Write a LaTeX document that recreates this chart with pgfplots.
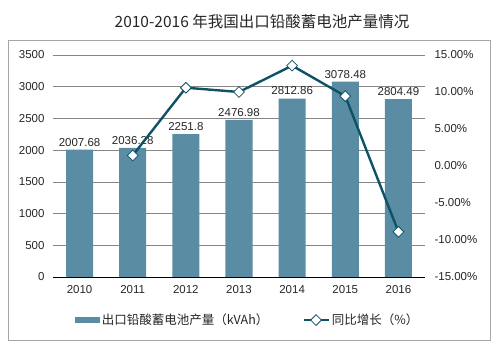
\documentclass[border=0pt]{standalone}
\usepackage{pgfplots}
\pgfplotsset{compat=1.18}
\usepackage{fontspec}
\setmainfont{Liberation Sans}
\newfontfamily\cjk{Noto Sans CJK SC}
\definecolor{barc}{RGB}{90,140,164}
\definecolor{linec}{RGB}{14,82,102}
\definecolor{gridc}{RGB}{134,134,134}
\begin{document}
\begin{tikzpicture}[x=1pt,y=1pt]
\path[use as bounding box] (0,0) rectangle (497,352);
\draw[gray!70, line width=0.8pt] (8,12) rectangle (490,312);
\node[font=\cjk\fontsize{15.5}{18}\selectfont, text=black!85] at (262,330) {2010-2016\ 年我国出口铅酸蓄电池产量情况};
\begin{axis}[
  at={(53pt,75pt)}, anchor=south west, scale only axis,
  width=372pt, height=222pt,
  xmin=-0.5, xmax=6.5, ymin=0, ymax=3500,
  xtick={0,...,6}, xticklabels={2010,2011,2012,2013,2014,2015,2016},
  ytick={0,500,...,3500},
  axis x line*=bottom, axis y line*=left,
  y axis line style={draw=none},
  x axis line style={black, line width=0.8pt, -},
  major tick length=0pt,
  ymajorgrids, grid style={gridc, line width=0.6pt},
  ticklabel style={font=\fontsize{11.5}{13}\selectfont, text=black!85},
  yticklabel style={xshift=-5pt},
  xticklabel style={yshift=-5pt},
  /pgf/number format/assume math mode=true,
  /pgf/number format/1000 sep={},
  legend columns=2,
  legend style={at={(0.523,-0.194)}, anchor=center, draw=none, fill=none,
    font=\cjk\fontsize{12.5}{14}\selectfont, text=black!85,
    /tikz/every even column/.append style={column sep=32pt}},
]
\addplot[ybar, bar width=27pt, fill=barc, draw=none,
  point meta=explicit symbolic,
  nodes near coords,
  every node near coord/.append style={font=\fontsize{11.5}{13}\selectfont, text=black!85},
  legend image code/.code={\fill[barc] (0pt,-3pt) rectangle (25pt,3pt);}]
coordinates {
(0,2007.68) [2007.68]
(1,2036.28) [2036.28]
(2,2251.8) [2251.8]
(3,2476.98) [2476.98]
(4,2812.86) [2812.86]
(5,3078.48) [3078.48]
(6,2804.49) [2804.49]
};
\addlegendentry{出口铅酸蓄电池产量（kVAh）}
\addlegendimage{linec, line width=2.4pt, mark=square*, mark size=3.8pt,
  mark options={fill=white, draw=linec, line width=0.8pt, rotate=45},
  legend image code/.code={\draw[mark repeat=2,mark phase=2] plot coordinates {(0pt,0pt) (12.5pt,0pt) (25pt,0pt)};}}
\addlegendentry{同比增长（\%）}
\end{axis}
\begin{axis}[
  at={(53pt,75pt)}, anchor=south west, scale only axis,
  width=372pt, height=222pt,
  xmin=-0.5, xmax=6.5, ymin=-15, ymax=15,
  ytick={-15,-10,...,15},
  yticklabels={-15.00\%,-10.00\%,-5.00\%,0.00\%,5.00\%,10.00\%,15.00\%},
  axis y line*=right, hide x axis,
  y axis line style={draw=none},
  major tick length=0pt,
  ticklabel style={font=\fontsize{11.5}{13}\selectfont, text=black!85},
  yticklabel style={xshift=6pt},
]
\addplot[linec, line width=2.4pt, mark=square*, mark size=3.8pt,
  mark options={fill=white, draw=linec, line width=0.8pt, rotate=45}]
coordinates {
(1,1.42) (2,10.58) (3,10.00) (4,13.56) (5,9.44) (6,-8.90)
};
\end{axis}
\end{tikzpicture}
\end{document}
